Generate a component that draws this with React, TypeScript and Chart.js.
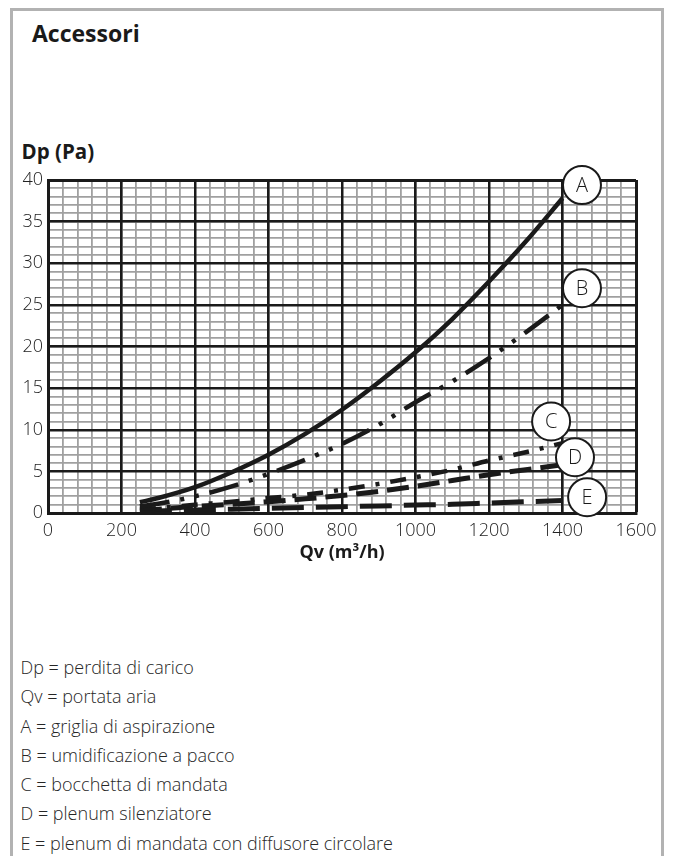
import React, { useEffect, useRef } from "react";
import { Chart, registerables } from "chart.js";

Chart.register(...registerables);

// ---- data ----
const QV = [250, 300, 400, 500, 600, 700, 800, 900, 1000, 1100, 1200, 1300, 1400];
const DP_A = [1.3, 1.8, 3.1, 4.9, 7.0, 9.5, 12.4, 15.7, 19.3, 23.3, 27.8, 32.6, 37.8];
const DP_B = [0.8, 1.1, 2.0, 3.2, 4.7, 6.4, 8.3, 10.6, 13.3, 15.8, 18.6, 21.7, 25.0];
const DP_C = [0.5, 0.6, 1.0, 1.35, 1.8, 2.2, 2.8, 3.5, 4.3, 5.2, 6.3, 7.3, 8.4];
const DP_D = [0.35, 0.45, 0.8, 1.05, 1.35, 1.7, 2.1, 2.6, 3.2, 3.9, 4.6, 5.2, 5.8];
const DP_E = [0.2, 0.25, 0.35, 0.45, 0.55, 0.65, 0.75, 0.85, 0.95, 1.05, 1.2, 1.35, 1.5];

const CURVE_NAMES = ["A", "B", "C", "D", "E"];
// circled label anchors in data units (Qv, Dp)
const LABEL_QV = [1453, 1453, 1369, 1434, 1467];
const LABEL_DP = [39.4, 27.0, 11.0, 6.7, 1.9];

const X_MIN = 0;
const X_MAX = 1600;
const X_MAJOR = 200;
const X_MINOR = 40;
const Y_MIN = 0;
const Y_MAX = 40;
const Y_MAJOR = 5;
const Y_MINOR = 1;

const LEGEND_LINES = [
  "Dp = perdita di carico",
  "Qv = portata aria",
  "A = griglia di aspirazione",
  "B = umidificazione a pacco",
  "C = bocchetta di mandata",
  "D = plenum silenziatore",
  "E = plenum di mandata con diffusore circolare",
];

const FONT = '"Open Sans", "Noto Sans", sans-serif';

const toPoints = (ys: number[]) => QV.map((q, i) => ({ x: q, y: ys[i] }));

const circleLabels = {
  id: "circleLabels",
  afterDatasetsDraw(chart: any) {
    const { ctx } = chart;
    const xs = chart.scales.x;
    const ys = chart.scales.y;
    ctx.save();
    CURVE_NAMES.forEach((name, i) => {
      const px = xs.getPixelForValue(LABEL_QV[i]);
      const py = ys.getPixelForValue(LABEL_DP[i]);
      ctx.beginPath();
      ctx.arc(px, py, 19, 0, Math.PI * 2);
      ctx.fillStyle = "#ffffff";
      ctx.fill();
      ctx.lineWidth = 2;
      ctx.strokeStyle = "#1a1a1a";
      ctx.stroke();
      ctx.fillStyle = "#1a1a1a";
      ctx.font = `300 20px ${FONT}`;
      ctx.textAlign = "center";
      ctx.textBaseline = "middle";
      ctx.fillText(name, px, py + 1);
    });
    ctx.restore();
  },
};

export default function App() {
  const canvasRef = useRef<HTMLCanvasElement | null>(null);

  useEffect(() => {
    const canvas = canvasRef.current;
    if (!canvas) return;
    const lineBase = {
      pointRadius: 0,
      fill: false,
      borderColor: "#1a1a1a",
      borderCapStyle: "butt" as const,
      cubicInterpolationMode: "monotone" as const,
      xAxisID: "x",
      yAxisID: "y",
    };
    const tickFont = { family: FONT, size: 18, weight: "300" as any };
    const chart = new Chart(canvas, {
      type: "line",
      data: {
        datasets: [
          { ...lineBase, label: "A", data: toPoints(DP_A), borderWidth: 4.5 },
          { ...lineBase, label: "B", data: toPoints(DP_B), borderWidth: 4.5, borderDash: [30, 11, 4, 11, 4, 11] },
          { ...lineBase, label: "C", data: toPoints(DP_C), borderWidth: 4.5, borderDash: [16, 11, 4, 11] },
          { ...lineBase, label: "D", data: toPoints(DP_D), borderWidth: 5, borderDash: [22, 9] },
          { ...lineBase, label: "E", data: toPoints(DP_E), borderWidth: 5, borderDash: [32, 12] },
        ],
      },
      options: {
        animation: false,
        responsive: false,
        devicePixelRatio: 1,
        layout: { padding: { top: 40, right: 37, left: 0, bottom: 0 } },
        plugins: { legend: { display: false }, tooltip: { enabled: false }, title: { display: false } },
        scales: {
          xMinor: {
            type: "linear",
            position: "bottom",
            min: X_MIN,
            max: X_MAX,
            ticks: { display: false, stepSize: X_MINOR },
            grid: { color: "#a0a0a0", lineWidth: 1.8, drawTicks: false, z: -2 },
            border: { display: false },
            afterFit: (s: any) => { s.height = 0; },
          },
          yMinor: {
            type: "linear",
            position: "left",
            min: Y_MIN,
            max: Y_MAX,
            ticks: { display: false, stepSize: Y_MINOR },
            grid: { color: "#a0a0a0", lineWidth: 1.8, drawTicks: false, z: -2 },
            border: { display: false },
            afterFit: (s: any) => { s.width = 0; },
          },
          x: {
            type: "linear",
            position: "bottom",
            min: X_MIN,
            max: X_MAX,
            ticks: {
              stepSize: X_MAJOR,
              autoSkip: false,
              maxRotation: 0,
              padding: 7,
              color: "#222",
              font: tickFont,
              callback: (v: any) => String(v),
            },
            grid: {
              color: "#1a1a1a",
              lineWidth: (c: any) => (c.tick && c.tick.value === X_MAX ? 3 : 2.5),
              drawTicks: false,
              z: -1,
            },
            border: { display: true, color: "#1a1a1a", width: 3 },
            title: {
              display: true,
              text: "Qv (m³/h)",
              color: "#1a1a1a",
              font: { family: FONT, size: 18, weight: "bold" },
              padding: { top: 0, bottom: 6 },
            },
            afterFit: (s: any) => { s.height = 57; },
          },
          y: {
            type: "linear",
            position: "left",
            min: Y_MIN,
            max: Y_MAX,
            ticks: {
              stepSize: Y_MAJOR,
              padding: 5,
              color: "#222",
              font: tickFont,
              callback: (v: any) => String(v),
            },
            grid: {
              color: "#1a1a1a",
              lineWidth: (c: any) => (c.tick && c.tick.value === Y_MAX ? 3 : 2.5),
              drawTicks: false,
              z: -1,
            },
            border: { display: true, color: "#1a1a1a", width: 3 },
            afterFit: (s: any) => { s.width = 48; },
          },
        },
      },
      plugins: [circleLabels],
    } as any);
    return () => chart.destroy();
  }, []);

  return (
    <div style={{ fontFamily: FONT }}>
      <div
        style={{
          position: "absolute",
          left: 10,
          top: 8,
          width: 648,
          height: 900,
          borderTop: "3px solid #b2b2b2",
          borderLeft: "3px solid #b2b2b2",
          borderRight: "3px solid #b2b2b2",
          boxSizing: "content-box",
        }}
      />
      <div
        style={{
          position: "absolute",
          left: 32,
          top: 18,
          fontSize: 23,
          lineHeight: "30px",
          fontWeight: 700,
          color: "#1a1a1a",
        }}
      >
        Accessori
      </div>
      <div
        style={{
          position: "absolute",
          left: 21.5,
          top: 136.5,
          fontSize: 20.5,
          lineHeight: "28px",
          fontWeight: 700,
          color: "#1a1a1a",
        }}
      >
        Dp (Pa)
      </div>
      <canvas
        ref={canvasRef}
        width={673}
        height={430}
        style={{ position: "absolute", left: 0, top: 140, width: 673, height: 430 }}
      />
      <div
        style={{
          position: "absolute",
          left: 20.5,
          top: 653,
          fontSize: 18,
          lineHeight: "29.3px",
          fontWeight: 300,
          color: "#262626",
          whiteSpace: "nowrap",
        }}
      >
        {LEGEND_LINES.map((t) => (
          <div key={t}>{t}</div>
        ))}
      </div>
    </div>
  );
}
